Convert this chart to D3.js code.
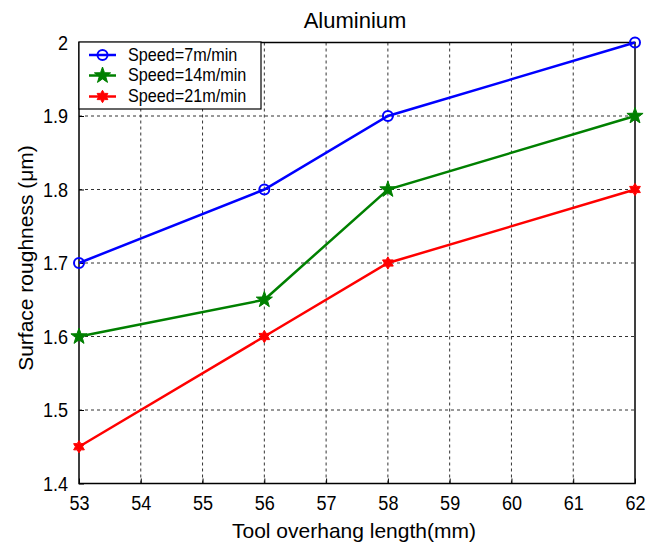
<!DOCTYPE html>
<html>
<head>
<meta charset="utf-8">
<script src="https://cdn.jsdelivr.net/npm/d3@7"></script>
<style>
  body { margin: 0; background: #fff; }
  svg { display: block; font-family: "Liberation Sans", Arial, Helvetica, sans-serif; }
</style>
</head>
<body>
<svg id="chart" width="661" height="545"></svg>
<script>
// Tool overhang lengths (mm) and measured surface roughness (µm)
const overhang = [53, 56, 58, 62];
const speed7 = [1.7, 1.8, 1.9, 2.0];
const speed14 = [1.6, 1.65, 1.8, 1.9];
const speed21 = [1.45, 1.6, 1.7, 1.8];
const seriesNames = ["Speed=7m/min", "Speed=14m/min", "Speed=21m/min"];
const xTicks = [53, 54, 55, 56, 57, 58, 59, 60, 61, 62];
const yTicks = [1.4, 1.5, 1.6, 1.7, 1.8, 1.9, 2.0];

const svg = d3.select("#chart");
const m = { left: 79, right: 635, top: 42.5, bottom: 483.5 };

const x = d3.scaleLinear().domain([53, 62]).range([m.left, m.right]);
const y = d3.scaleLinear().domain([1.4, 2.0]).range([m.bottom, m.top]);

// dashed grid
const grid = svg.append("g").attr("stroke", "#333").attr("stroke-width", 1)
  .attr("stroke-dasharray", "3,3");
xTicks.slice(1, -1).forEach(t => {
  grid.append("line").attr("x1", x(t)).attr("x2", x(t))
    .attr("y1", m.top).attr("y2", m.bottom);
});
yTicks.slice(1, -1).forEach(t => {
  grid.append("line").attr("y1", y(t)).attr("y2", y(t))
    .attr("x1", m.left).attr("x2", m.right);
});

// axes with inward ticks and narrow tick labels
const squeeze = 0.86;
const xAxis = d3.axisBottom(x).tickValues(xTicks).tickSize(-5).tickPadding(11.5)
  .tickFormat(d3.format("d"));
const yAxis = d3.axisLeft(y).tickValues(yTicks).tickSize(-5).tickPadding(11)
  .tickFormat(d => d === 2 ? "2" : d3.format(".1f")(d));

const gx = svg.append("g").attr("transform", `translate(0,${m.bottom})`).call(xAxis);
const gy = svg.append("g").attr("transform", `translate(${m.left},0)`).call(yAxis);
[gx, gy].forEach(g => {
  g.select(".domain").remove();
  g.selectAll(".tick line").attr("stroke", "#000");
  g.selectAll(".tick text").attr("fill", "#000").style("font-size", "21px")
    .attr("transform", `scale(${squeeze},1)`);
});
gy.selectAll(".tick text").attr("x", -11 / squeeze);

// frame
svg.append("rect").attr("x", m.left).attr("y", m.top)
  .attr("width", m.right - m.left).attr("height", m.bottom - m.top)
  .attr("fill", "none").attr("stroke", "#000").attr("stroke-width", 1.5);

// star shapes
function starPath(cx, cy, n, rOut, rIn) {
  const pts = [];
  for (let i = 0; i < 2 * n; i++) {
    const r = i % 2 === 0 ? rOut : rIn;
    const a = -Math.PI / 2 + i * Math.PI / n;
    pts.push([cx + r * Math.cos(a), cy + r * Math.sin(a)]);
  }
  return "M" + pts.map(p => p.join(",")).join("L") + "Z";
}

function drawMarker(g, kind, cx, cy, color) {
  if (kind === "circle") {
    g.append("circle").attr("cx", cx).attr("cy", cy).attr("r", 5)
      .attr("fill", "none").attr("stroke", color).attr("stroke-width", 2);
  } else if (kind === "pentagram") {
    g.append("path").attr("d", starPath(cx, cy, 5, 8.5, 3.4))
      .attr("fill", color).attr("stroke", color).attr("stroke-width", 1);
  } else {
    g.append("path").attr("d", starPath(cx, cy, 6, 6.2, 3.6))
      .attr("fill", color).attr("stroke", color).attr("stroke-width", 1);
  }
}

const series = [
  { name: seriesNames[0], values: speed7, color: "#0000ff", marker: "circle" },
  { name: seriesNames[1], values: speed14, color: "#008000", marker: "pentagram" },
  { name: seriesNames[2], values: speed21, color: "#ff0000", marker: "hexagram" }
];

const line = d3.line().x(d => x(d[0])).y(d => y(d[1]));
const plot = svg.append("g");
series.forEach(s => {
  const pts = overhang.map((o, i) => [o, s.values[i]]);
  plot.append("path").attr("d", line(pts)).attr("fill", "none")
    .attr("stroke", s.color).attr("stroke-width", 2.5);
  pts.forEach(p => drawMarker(plot, s.marker, x(p[0]), y(p[1]), s.color));
});

// legend
const lg = svg.append("g");
lg.append("rect").attr("x", 79).attr("y", 42).attr("width", 182).attr("height", 67)
  .attr("fill", "#fff").attr("stroke", "#000").attr("stroke-width", 1.2);
const legendY = [55, 75.5, 96.5];
series.forEach((s, i) => {
  const ly = legendY[i];
  lg.append("line").attr("x1", 89).attr("x2", 116).attr("y1", ly).attr("y2", ly)
    .attr("stroke", s.color).attr("stroke-width", 2.5);
  drawMarker(lg, s.marker, 102.5, ly, s.color);
  lg.append("text").attr("x", 128).attr("y", ly + 6)
    .attr("transform", `translate(128,0) scale(0.9,1) translate(-128,0)`)
    .text(s.name).style("font-size", "18px").attr("fill", "#000");
});

// titles
svg.append("text").attr("x", 355).attr("y", 28).attr("text-anchor", "middle")
  .style("font-size", "22px").text("Aluminium");
svg.append("text").attr("x", 354).attr("y", 538).attr("text-anchor", "middle")
  .style("font-size", "21px").text("Tool overhang length(mm)");
svg.append("text").attr("transform", "translate(33,258) rotate(-90)")
  .attr("text-anchor", "middle").style("font-size", "21px")
  .text("Surface roughness (μm)");
</script>
</body>
</html>
